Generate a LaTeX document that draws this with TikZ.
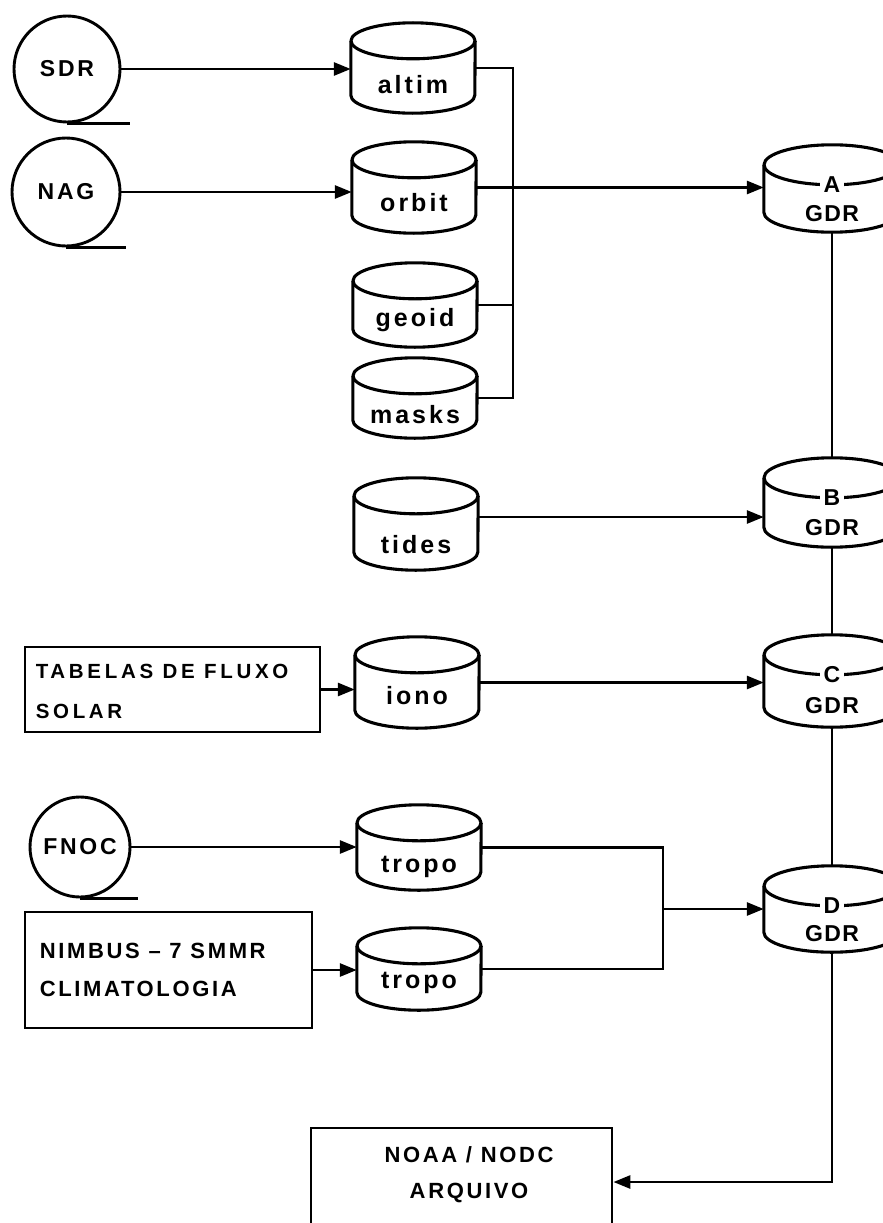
\documentclass[tikz,border=0pt]{standalone}
\usepackage{fontspec}
\setmainfont{Liberation Sans}
\newfontfamily\capsf[LetterSpace=12]{Liberation Sans}
\newfontfamily\gdrf[LetterSpace=6]{Liberation Sans}
\newfontfamily\lowf[LetterSpace=12]{Liberation Sans}
\newfontfamily\tabf[LetterSpace=18]{Liberation Sans}
\usetikzlibrary{arrows.meta,calc}
\tikzset{
  ln/.style={line width=2.8pt},
  cylline/.style={line width=3.1pt, line join=round},
  arr/.style={ln, -{Triangle[length=17pt,width=13pt]}},
  reel/.style={circle, draw, line width=2.9pt, inner sep=0, font=\capsf\bfseries\fontsize{23}{26}\selectfont},
  boxn/.style={draw, line width=2.8pt, inner sep=0},
  capt/.style={font=\capsf\bfseries\fontsize{22}{38}\selectfont, inner sep=0},
  noat/.style={font=\capsf\bfseries\fontsize{22}{36}\selectfont, inner sep=0},
  tabt/.style={font=\tabf\bfseries\fontsize{20.5}{40}\selectfont, inner sep=0},
  lowt/.style={font=\lowf\bfseries\fontsize{25}{28}\selectfont, inner sep=0},
  gdrt/.style={font=\gdrf\bfseries\fontsize{23}{26}\selectfont, inner sep=0},
  lett/.style={font=\gdrf\bfseries\fontsize{23}{26}\selectfont, fill=white, inner xsep=4pt, inner ysep=1pt},
}
\newcommand{\dbcyl}[6]{% name, cx, top, bottom, halfwidth, ry
  \node[inner sep=0, minimum width={2*#5*1pt}, minimum height={(#4-#3)*1pt}] (#1) at (#2,{(#3+#4)/2}) {};
  \draw[cylline] ($(#1.north west)+(0,-#6pt)$) -- ($(#1.south west)+(0,#6pt)$)
     arc[start angle=180, end angle=360, x radius=#5pt, y radius=#6pt]
     -- ($(#1.north east)+(0,-#6pt)$);
  \draw[cylline] ($(#1.north)+(0,-#6pt)$) ellipse[x radius=#5pt, y radius=#6pt];
}
\begin{document}
\begin{tikzpicture}[x=1pt,y=-1pt]
\useasboundingbox (0,0) rectangle (883,1223);
\clip (0,0) rectangle (883,1223);
\fill[white] (0,0) rectangle (883,1223);

% tape reels
\node[reel, minimum size=106pt] (sdr) at (67,69) {SDR};
\node[reel, minimum size=108pt] (nag) at (66,192) {NAG};
\node[reel, minimum size=100pt] (fnoc) at (80,847) {FNOC};
\draw[ln] (sdr.south) -- ++(63pt,0);
\draw[ln] (nag.south) -- ++(60pt,0);
\draw[ln] (fnoc.south) -- ++(58pt,0);

% small data cylinders
\dbcyl{altim}{413}{23}{113}{62}{18}
\dbcyl{orbit}{414}{142}{233}{62}{18}
\dbcyl{geoid}{415}{263}{347}{62}{18}
\dbcyl{masks}{415}{358}{438}{62}{18}
\dbcyl{tides}{416}{478}{570}{62}{18}
\dbcyl{iono}{417}{637}{728}{62}{18}
\dbcyl{tropoA}{419}{805}{890}{62}{18}
\dbcyl{tropoB}{419}{928}{1010}{62}{18}
\node[lowt] (altimL) at ($(altim.center)+(0,-17pt)$) {altim};
\node[lowt] (orbitL) at ($(orbit.center)+(0,-15pt)$) {orbit};
\node[lowt] (geoidL) at ($(geoid.center)+(0,-15pt)$) {geoid};
\node[lowt] (masksL) at ($(masks.center)+(0,-17pt)$) {masks};
\node[lowt] (tidesL) at ($(tides.center)+(0,-21pt)$) {tides};
\node[lowt] (ionoL) at ($(iono.center)+(0,-13pt)$) {iono};
\node[lowt] (tropoAL) at ($(tropoA.center)+(0,-19pt)$) {tropo};
\node[lowt] (tropoBL) at ($(tropoB.center)+(0,-14pt)$) {tropo};

% GDR cylinders
\dbcyl{A}{832}{145}{232}{68}{20}
\dbcyl{B}{832}{458}{547}{68}{20}
\dbcyl{C}{832}{635}{727}{68}{20}
\dbcyl{D}{832}{866}{952}{68}{20}
\foreach \n in {A,B,C,D}{
  \node[lett] (\n let) at ($(\n.north)+(0,-40pt)$) {\n};
  \node[gdrt] (\n gdr) at ($(\n.center)+(0,-25pt)$) {GDR};
}

% boxes
\node[boxn, minimum width=295pt, minimum height=85pt] (tab) at (172.5,689.5) {};
\node[tabt, anchor=west, align=left] (tabL) at ($(tab.west)+(12pt,-2pt)$) {TABELAS DE FLUXO\\SOLAR};
\node[boxn, minimum width=287pt, minimum height=116pt] (nimbus) at (168.5,970) {};
\node[capt, anchor=west, align=left] (nimbusL) at ($(nimbus.west)+(16pt,0)$) {NIMBUS – 7 SMMR\\CLIMATOLOGIA};
\node[boxn, minimum width=301pt, minimum height=108pt] (noaa) at (461.5,1182) {};
\node[noat, align=center] (noaaL) at (469,1175) {NOAA / NODC\\ARQUIVO};

% helper coordinates
\coordinate (brx) at (513,300);
\coordinate (yB) at (600,517);
\coordinate (jx) at (663,900);

% connectors
\draw[arr] (sdr.east) -- (sdr.east -| altim.west);
\draw[arr] (nag.east) -- (nag.east -| orbit.west);
\draw[arr] (orbit.east) -- (orbit.east -| A.west);
\draw[ln] (altim.east) -- (altim.east -| brx) -- (masks.east -| brx) -- (masks.east);
\draw[ln] (geoid.east) -- (geoid.east -| brx);
\draw[arr] (tides.east |- yB) -- (B.west |- yB);
\draw[arr] (tab.east) -- (tab.east -| iono.west);
\draw[arr] (iono.east) -- (iono.east -| C.west);
\draw[arr] (fnoc.east) -- (fnoc.east -| tropoA.west);
\draw[arr] (nimbus.east) -- (nimbus.east -| tropoB.west);
\draw[ln] (tropoA.east) -- (tropoA.east -| jx) -- (tropoB.east -| jx) -- (tropoB.east);
\draw[arr] (D.west -| jx) -- (D.west);
\draw[ln] (A.south) -- (B.north);
\draw[ln] (B.south) -- (C.north);
\draw[ln] (C.south) -- (D.north);
\draw[arr] (D.south) |- (noaa.east);
\end{tikzpicture}
\end{document}
